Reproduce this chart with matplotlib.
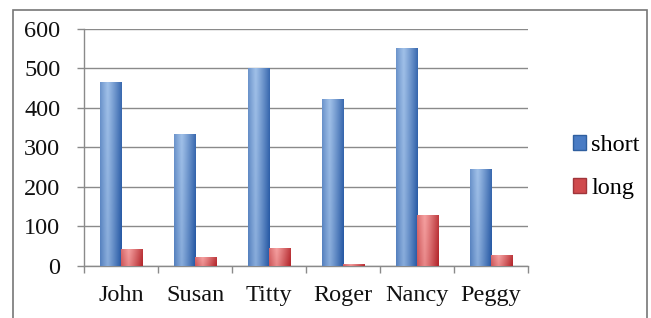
import numpy as np
import matplotlib
matplotlib.use("Agg")
import matplotlib.pyplot as plt
from matplotlib.patches import Rectangle, Patch

names = ["John", "Susan", "Titty", "Roger", "Nancy", "Peggy"]
short = [463, 332, 500, 422, 550, 244]
long_ = [42, 21, 45, 3, 127, 27]
yticks = [0, 100, 200, 300, 400, 500, 600]

plt.rcParams['font.family'] = ['Liberation Serif', 'DejaVu Serif']

fig = plt.figure(figsize=(6.51, 3.18), dpi=100)
ax = fig.add_axes([84/651, 1-266/318, (528-84)/651, (266-28.7)/318])

x = np.arange(len(names))
w = 0.29

def grad_img(light, dark):
    n = 64
    xs = np.linspace(0, 1, n)
    prof = np.where(xs < 0.35, 0.55*(0.35-xs)/0.35, (xs-0.35)/0.65)
    prof = prof**1.1
    ys = np.linspace(0, 1, 32)[:, None]
    f = np.clip(prof[None, :]*0.85 + (1-ys)*0.2, 0, 1)
    light = np.array(light)/255.0
    dark = np.array(dark)/255.0
    img = light[None, None, :]*(1-f[..., None]) + dark[None, None, :]*f[..., None]
    return img

blue_img = grad_img((160, 192, 232), (40, 90, 165))
red_img = grad_img((245, 160, 160), (180, 40, 45))

b1 = ax.bar(x - w/2, short, w, color="#4a7cc4", zorder=2)
b2 = ax.bar(x + w/2, long_, w, color="#d04a4d", zorder=2)
for bars, img in ((b1, blue_img), (b2, red_img)):
    for p in bars:
        x0 = p.get_x(); x1 = x0 + p.get_width(); h = p.get_height()
        if h <= 0:
            continue
        ax.imshow(img, extent=(x0, x1, 0, h), aspect='auto', origin='lower',
                  zorder=3, interpolation='bilinear')

ax.set_xlim(-0.5, len(names) - 0.5)
ax.set_ylim(0, 600)
ax.set_yticks(yticks)
ax.set_yticklabels([str(v) for v in yticks], fontsize=17.5, color="#111111")
ax.yaxis.grid(True, color="#8a8a8a", linewidth=1.0, zorder=0)
ax.set_axisbelow(True)

ax.set_xticks(np.arange(len(names)+1) - 0.5)
ax.set_xticklabels([])
ax.set_xticks(x, minor=True)
ax.set_xticklabels(names, minor=True, fontsize=17.5, color="#111111")
ax.tick_params(axis='x', which='major', length=5, color="#8a8a8a", width=1)
ax.tick_params(axis='x', which='minor', length=0, pad=14)
ax.tick_params(axis='y', length=5, color="#8a8a8a", width=1, pad=12)

for s in ("top", "right"):
    ax.spines[s].set_visible(False)
for s in ("left", "bottom"):
    ax.spines[s].set_color("#8a8a8a")
    ax.spines[s].set_linewidth(1.0)

handles = [Patch(facecolor="#4a7cc4", edgecolor="#2f5f9f"),
           Patch(facecolor="#d04a4d", edgecolor="#a0353a")]
fig.legend(handles, ["short", "long"], loc="center left",
           bbox_to_anchor=(556/651, 1-167/318), frameon=False, fontsize=17.5,
           handlelength=0.55, handleheight=0.55, handletextpad=0.2,
           labelspacing=0.9, borderpad=0.2)

fig.add_artist(Rectangle((13/651, -0.1), (647-13)/651, 1.1 - 10/318,
                         transform=fig.transFigure, facecolor="none",
                         edgecolor="#777777", linewidth=1.2, clip_on=False))

fig.savefig("out.png", dpi=100)
